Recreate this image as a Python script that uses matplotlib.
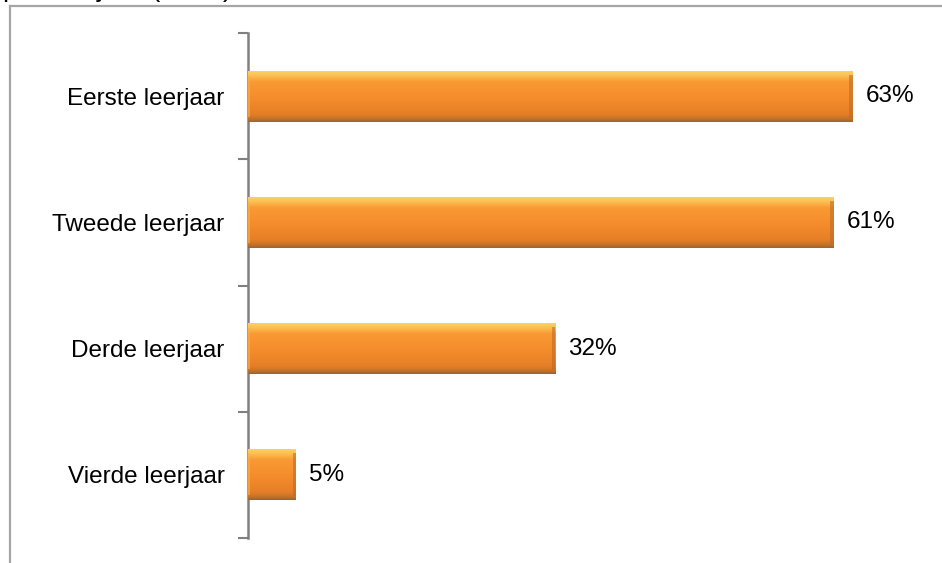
import matplotlib
matplotlib.use("Agg")
import matplotlib.pyplot as plt
from matplotlib.colors import LinearSegmentedColormap
from matplotlib.lines import Line2D
import numpy as np

plt.rcParams['font.family'] = ['Liberation Sans', 'DejaVu Sans']

categories = ['Eerste leerjaar', 'Tweede leerjaar', 'Derde leerjaar', 'Vierde leerjaar']
values = [63, 61, 32, 5]
labels = ['63%', '61%', '32%', '5%']
title = 'per leerjaar (n=96)'

fig = plt.figure(figsize=(9.42, 5.63), dpi=100)
W, H = 942, 563

# outer frame of the original picture (partly cut off)
fig.add_artist(Line2D([10 / W, 1.0], [1 - 6 / H, 1 - 6 / H], color='#a6a6a6', lw=1.6))
fig.add_artist(Line2D([10 / W, 10 / W], [0, 1 - 6 / H], color='#a6a6a6', lw=1.6))
# title sits mostly above the picture, only descenders show
fig.text(3 / W, 1 + 3.5 / H, title, fontsize=20, va='baseline', ha='left')

ax = fig.add_axes([248 / W, 1 - 538 / H, 1 - 248 / W, (538 - 33) / H])
y = np.arange(len(categories))
bars = ax.barh(y, values, height=0.405, left=0, color='#f7922e', edgecolor='none', zorder=2)

# bevel-ish gradient on each bar
cmap = LinearSegmentedColormap.from_list('bev', [
    (0.0, '#fdd46a'), (0.1, '#fcc154'), (0.22, '#f99a33'), (0.55, '#f58c2c'),
    (0.85, '#e57f27'), (0.93, '#c97428'), (1.0, '#9e6430')])
grad = np.linspace(0, 1, 200).reshape(-1, 1)
for b in bars:
    x0, y0 = b.get_x(), b.get_y()
    w, h = b.get_width(), b.get_height()
    im = ax.imshow(grad, cmap=cmap, aspect='auto', extent=(x0, x0 + w, y0 + h, y0),
                   zorder=3, interpolation='bicubic')
    im.set_clip_path(b)
    # darker right end and lighter left end
    ax.fill_between([x0 + w - 0.35, x0 + w], y0 + h * 0.08, y0 + h * 0.92,
                    color='#b8692a', alpha=0.55, lw=0, zorder=4)
    ax.fill_between([x0, x0 + 0.25], y0 + h * 0.1, y0 + h * 0.9,
                    color='#fbb04a', alpha=0.6, lw=0, zorder=4)

for yi, v, lab in zip(y, values, labels):
    ax.text(v + 1.35, yi, lab, va='center', ha='left', fontsize=17.5)

ax.set_xlim(0, (W - 248) / 9.6)
ax.set_ylim(len(categories) - 0.5, -0.5)
ax.set_yticks(y)
ax.set_yticklabels(categories, fontsize=17.5)
ax.set_yticks(np.arange(len(categories) + 1) - 0.5, minor=True)
ax.tick_params(axis='y', which='major', length=0, pad=17)
ax.tick_params(axis='y', which='minor', length=7, width=1.5, color='#808080')
ax.set_xticks([])
for s in ['top', 'right', 'bottom']:
    ax.spines[s].set_visible(False)
ax.spines['left'].set_color('#808080')
ax.spines['left'].set_linewidth(1.8)
ax.patch.set_alpha(0)

fig.savefig('out.png', dpi=100)
